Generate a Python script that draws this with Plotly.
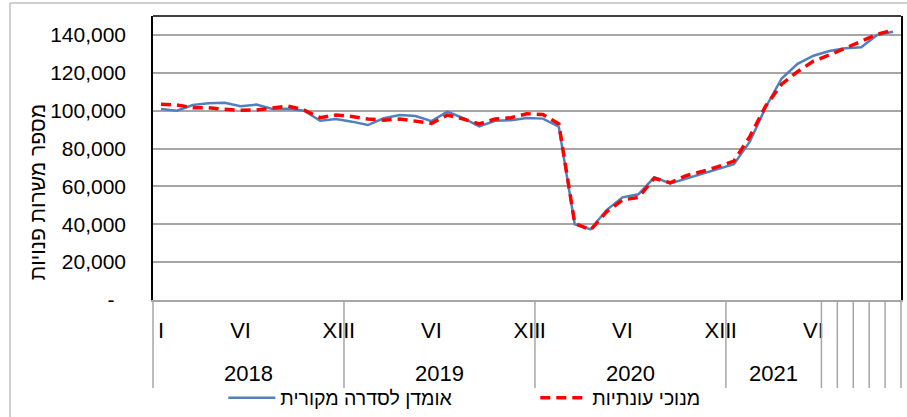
import plotly.graph_objects as go

# ---------------- data ----------------
years = ["2018"] * 12 + ["2019"] * 12 + ["2020"] * 12 + ["2021"] * 6 + [""] * 5
months = (["I", "", "", "", "", "VI", "", "", "", "", "", "XII"] * 3
          + ["I", "", "", "", "", "VI", "", "", "", "", ""])

original = [100900, 100000, 103000, 103900, 104200, 102300, 103200, 100900, 101000, 100000, 94700, 95600,
            94200, 92400, 96000, 97700, 97200, 94500, 99500, 96000, 91700, 94700, 95000, 96100,
            95800, 91500, 40000, 37300, 47500, 54200, 55800, 64800, 61600, 64200, 66700, 69200,
            71700, 83600, 101800, 117000, 124700, 129000, 131500, 133000, 133500, 140000, 141700]

seasonal = [103400, 103000, 101600, 101600, 100700, 100200, 100400, 101200, 102400, 100300, 96300, 97700,
            96900, 95600, 95000, 95600, 94400, 93300, 97700, 95600, 93000, 95600, 96300, 98400,
            98000, 93000, 40500, 37000, 46600, 52800, 54200, 64300, 61900, 65700, 67900, 70400,
            73400, 86300, 102500, 114000, 120600, 126200, 129400, 133000, 136500, 140300, 142600]

y_ticks = [0, 20000, 40000, 60000, 80000, 100000, 120000, 140000]

name_orig = "אומדן לסדרה מקורית"
name_seas = "מנוכי עונתיות"
y_title = "מספר משרות פנויות"

FONT = "Liberation Sans, Arial, sans-serif"
N = len(months)
idx = list(range(N))

fig = go.Figure()
fig.add_trace(go.Scatter(x=idx, y=original, mode="lines", name=name_orig,
                         line=dict(color="#4F81BD", width=2.5)))
fig.add_trace(go.Scatter(x=idx, y=seasonal, mode="lines", name=name_seas,
                         line=dict(color="#FF0000", width=3.5, dash="10px,6px")))

# group boundaries for the year level
groups = []  # (start, end, label)
i = 0
while i < N:
    j = i
    if years[i] != "":
        while j + 1 < N and years[j + 1] == years[i]:
            j += 1
    groups.append((i, j, years[i]))
    i = j + 1

shapes = []
sep_bottom = -0.31
boundaries = sorted(set([g[0] for g in groups] + [N]))
for b in boundaries:
    xp = b / N
    shapes.append(dict(type="line", xref="paper", yref="paper", x0=xp, x1=xp,
                       y0=0, y1=sep_bottom, line=dict(color="#A6A6A6", width=1.5)))
# top border of plot area
shapes.append(dict(type="line", xref="paper", yref="paper", x0=0, x1=1, y0=1, y1=1,
                   line=dict(color="black", width=1.5)))
# outer chart frame
shapes.append(dict(type="line", xref="paper", yref="paper", x0=-0.1912, x1=1.2,
                   y0=1.0458, y1=1.0458, line=dict(color="#BFBFBF", width=1.5)))
shapes.append(dict(type="line", xref="paper", yref="paper", x0=-0.1912, x1=-0.1912,
                   y0=1.0458, y1=-0.5, line=dict(color="#BFBFBF", width=1.5)))

annotations = []
for (s, e, lab) in groups:
    if lab:
        annotations.append(dict(x=(s + e) / 2, y=-0.26, xref="x", yref="paper",
                                text=lab, showarrow=False, yanchor="middle",
                                font=dict(size=22, color="black", family=FONT)))
# y-axis title
annotations.append(dict(x=-0.155, y=0.38, xref="paper", yref="paper", text=y_title,
                        textangle=-90, showarrow=False, xanchor="center", yanchor="middle",
                        font=dict(size=21, color="black", family=FONT)))

tick_vals = [k for k in idx if months[k]]
tick_text = [months[k] for k in tick_vals]

fig.update_layout(
    width=907, height=417,
    margin=dict(l=153, r=6, t=16, b=117, autoexpand=False),
    paper_bgcolor="white", plot_bgcolor="white",
    font=dict(family=FONT, color="black", size=20),
    showlegend=True,
    legend=dict(orientation="h", x=0.094, y=-0.345, xanchor="left", yanchor="middle",
                font=dict(size=19.5, family=FONT), entrywidth=250, entrywidthmode="pixels",
                itemwidth=47, bgcolor="rgba(0,0,0,0)", tracegroupgap=0),
    shapes=shapes,
    annotations=annotations,
    xaxis=dict(range=[-0.5, N - 0.5], tickmode="array", tickvals=tick_vals, ticktext=tick_text,
               showgrid=False, zeroline=False, showline=True, linecolor="#A6A6A6", linewidth=1.5,
               ticks="", ticklabelstandoff=10, tickangle=0, automargin=False,
               tickfont=dict(size=22, family=FONT)),
    yaxis=dict(range=[0, 150000], tickmode="array", tickvals=y_ticks,
               ticktext=["-\u00a0\u00a0"] + [f"{v:,}" for v in y_ticks[1:]],
               showgrid=True, gridcolor="#A6A6A6", gridwidth=1.5, zeroline=False,
               showline=True, linecolor="black", linewidth=1.5, mirror=True, automargin=False,
               ticks="", ticklabelstandoff=21, tickfont=dict(size=21, family=FONT)),
)

fig.write_html("out.html", config={"displayModeBar": False},
               post_script="document.body.style.margin='0';")
